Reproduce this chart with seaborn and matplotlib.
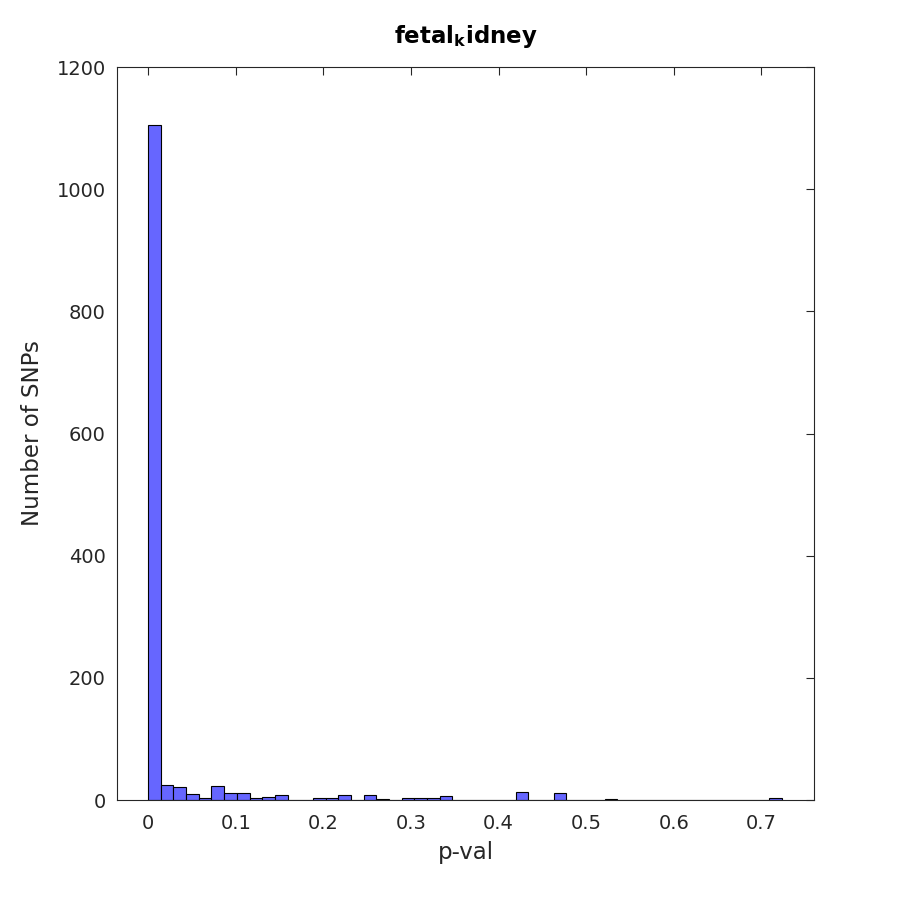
import numpy as np
import pandas as pd
import matplotlib.pyplot as plt
import seaborn as sns

# histogram counts, 50 equal bins from 0 to ~0.7237
bin_width = 0.01447
counts = [1105, 24, 21, 10, 3, 23, 11, 11, 3, 5,
          8, 0, 0, 3, 3, 8, 0, 8, 1, 0,
          3, 3, 3, 6, 0, 0, 0, 0, 0, 13,
          0, 0, 11, 0, 0, 0, 1, 0, 0, 0,
          0, 0, 0, 0, 0, 0, 0, 0, 0, 3]
x_ticks = [0, 0.1, 0.2, 0.3, 0.4, 0.5, 0.6, 0.7]
y_ticks = [0, 200, 400, 600, 800, 1000, 1200]

n_bins = len(counts)
centers = (np.arange(n_bins) + 0.5) * bin_width
df = pd.DataFrame({"pval": centers, "n": counts})

sns.set_style("white")
plt.rcParams["font.family"] = ["DejaVu Sans"]

fig = plt.figure(figsize=(9, 9), dpi=100)
ax = fig.add_axes([117 / 900, 100 / 900, 697 / 900, 733 / 900])

sns.histplot(data=df, x="pval", weights="n", bins=n_bins,
             binrange=(0, n_bins * bin_width), ax=ax,
             color="#6666ff", edgecolor="black", linewidth=0.8, alpha=1)

ax.set_xlim(-0.0355, 0.760)
ax.set_ylim(0, 1200)
ax.set_xticks(x_ticks)
ax.set_xticklabels([f"{t:g}" for t in x_ticks])
ax.set_yticks(y_ticks)
ax.tick_params(direction="in", length=6, width=0.8, labelsize=14,
               top=True, right=True, colors="#262626", labelcolor="#262626")
ax.tick_params(axis="x", pad=10)
ax.tick_params(axis="y", pad=8)
for s in ax.spines.values():
    s.set_linewidth(0.8)
    s.set_color("#262626")

ax.set_xlabel("p-val", fontsize=16.5, color="#262626", va="center")
ax.xaxis.set_label_coords(0.5, -(853 - 800) / 733)
ax.set_ylabel("Number of SNPs", fontsize=16.5, color="#262626",
              va="center", ha="center")
ax.yaxis.set_label_coords(-(117 - 33) / 697, 0.5)
ax.set_title(r"fetal$_{\mathbf{k}}$idney", fontsize=16.5, fontweight="bold",
             color="black", pad=17)

fig.savefig("out.png", dpi=100)
